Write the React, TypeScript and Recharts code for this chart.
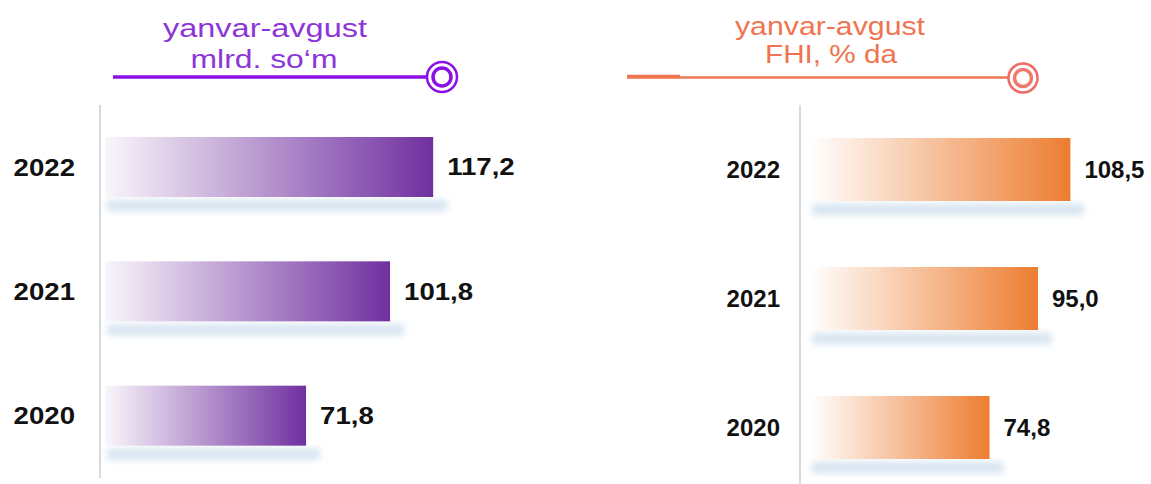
import React from 'react';
import { BarChart, Bar, XAxis, YAxis, LabelList } from 'recharts';

const years = ['2022', '2021', '2020'];
const volumeValues = [117.2, 101.8, 71.8];
const shareValues = [108.5, 95.0, 74.8];

const volumeData = years.map((year, i) => ({ year, value: volumeValues[i] }));
const shareData = years.map((year, i) => ({ year, value: shareValues[i] }));

const FONT = '"Liberation Sans", Arial, Helvetica, sans-serif';
const fmt = (v: number) => Number(v).toFixed(1).replace('.', ',');

const makeShape = (filterId: string) => (props: any) => {
  const { x, y, width, height, fill } = props;
  return (
    <g>
      <rect x={x + 2} y={y + height + 3} width={width + 12} height={11} fill="#d6e4f0" filter={`url(#${filterId})`} />
      <rect x={x} y={y} width={width} height={height} fill={fill} />
    </g>
  );
};

const makeTick = (sx: number) => (props: any) => {
  const { x, y, payload } = props;
  return (
    <text transform={`translate(${x},${y}) scale(${sx},1)`} textAnchor="end" dy="0.35em"
      fontFamily={FONT} fontWeight="bold" fontSize={24} fill="#111">
      {payload.value}
    </text>
  );
};

const makeLabel = (sx: number, gap: number) => (props: any) => {
  const { x, y, width, height, value } = props;
  return (
    <text transform={`translate(${x + width + gap},${y + height / 2}) scale(${sx},1)`} textAnchor="start" dy="0.35em"
      fontFamily={FONT} fontWeight="bold" fontSize={24} fill="#111">
      {fmt(value)}
    </text>
  );
};

const Titles = () => (
  <svg width={1151} height={110} style={{ position: 'absolute', left: 0, top: 0 }}>
    <text x={265} y={37} textAnchor="middle" fontFamily={FONT} fontSize={25} fill="#8d36d8"
      textLength={204} lengthAdjust="spacingAndGlyphs">yanvar-avgust</text>
    <text x={264} y={68} textAnchor="middle" fontFamily={FONT} fontSize={25} fill="#8d36d8"
      textLength={147} lengthAdjust="spacingAndGlyphs">mlrd. so‘m</text>
    <line x1={113} y1={77} x2={427} y2={77} stroke="#8a10e6" strokeWidth={3.5} />
    <circle cx={442} cy={77} r={15} fill="#fff" stroke="#8a10e6" strokeWidth={2.5} />
    <circle cx={442} cy={77} r={9} fill="#fff" stroke="#8a10e6" strokeWidth={3.5} />

    <text x={830} y={35} textAnchor="middle" fontFamily={FONT} fontSize={25} fill="#f0744f"
      textLength={190} lengthAdjust="spacingAndGlyphs">yanvar-avgust</text>
    <text x={831} y={63} textAnchor="middle" fontFamily={FONT} fontSize={25} fill="#f0744f"
      textLength={132} lengthAdjust="spacingAndGlyphs">FHI, % da</text>
    <line x1={627} y1={76.5} x2={680} y2={76.5} stroke="#e8734f" strokeWidth={3.5} />
    <line x1={627} y1={77.5} x2={1008} y2={77.5} stroke="#ee7852" strokeWidth={2.5} />
    <circle cx={1023} cy={78} r={14.5} fill="#fff" stroke="#f06a66" strokeWidth={2.5} />
    <circle cx={1023} cy={78} r={8.5} fill="#fff" stroke="#f07a6a" strokeWidth={3.5} />
  </svg>
);

export default function App() {
  return (
    <div style={{ position: 'fixed', left: 0, top: 0, width: 1151, height: 484, overflow: 'hidden', background: '#fff' }}>
      <div style={{ position: 'absolute', left: 0, top: 0 }}>
        <BarChart width={517} height={484} data={volumeData} layout="vertical"
          margin={{ top: 105, right: 20, bottom: 6, left: 0 }} barCategoryGap={0}>
          <defs>
            <linearGradient id="gradPurple" x1="0" y1="0" x2="1" y2="0">
              <stop offset="0%" stopColor="#faf6fb" />
              <stop offset="100%" stopColor="#7030a0" />
            </linearGradient>
            <filter id="blurL" x="-10%" y="-150%" width="120%" height="400%">
              <feGaussianBlur stdDeviation="3.5" />
            </filter>
          </defs>
          <XAxis type="number" hide domain={[0, 140]} padding={{ left: 5, right: 0 }} />
          <YAxis type="category" dataKey="year" width={100} axisLine={{ stroke: '#d9d9d9', strokeWidth: 2 }}
            tickLine={false} tickSize={0} tickMargin={25} tick={makeTick(1.15)} />
          <Bar dataKey="value" barSize={60} fill="url(#gradPurple)" isAnimationActive={false} shape={makeShape('blurL')}>
            <LabelList dataKey="value" content={makeLabel(1.15, 14)} />
          </Bar>
        </BarChart>
      </div>
      <div style={{ position: 'absolute', left: 700, top: 0 }}>
        <BarChart width={451} height={492} data={shareData} layout="vertical"
          margin={{ top: 105, right: 29, bottom: 0, left: 0 }} barCategoryGap={0}>
          <defs>
            <linearGradient id="gradOrange" x1="0" y1="0" x2="1" y2="0">
              <stop offset="0%" stopColor="#ffffff" />
              <stop offset="100%" stopColor="#ed7d31" />
            </linearGradient>
            <filter id="blurR" x="-10%" y="-150%" width="120%" height="400%">
              <feGaussianBlur stdDeviation="3.5" />
            </filter>
          </defs>
          <XAxis type="number" hide domain={[0, 130]} padding={{ left: 10, right: 0 }} />
          <YAxis type="category" dataKey="year" width={100} axisLine={{ stroke: '#d9d9d9', strokeWidth: 2 }}
            tickLine={false} tickSize={0} tickMargin={20} tick={makeTick(1.0)} />
          <Bar dataKey="value" barSize={63} fill="url(#gradOrange)" isAnimationActive={false} shape={makeShape('blurR')}>
            <LabelList dataKey="value" content={makeLabel(1.0, 14)} />
          </Bar>
        </BarChart>
      </div>
      <Titles />
    </div>
  );
}
